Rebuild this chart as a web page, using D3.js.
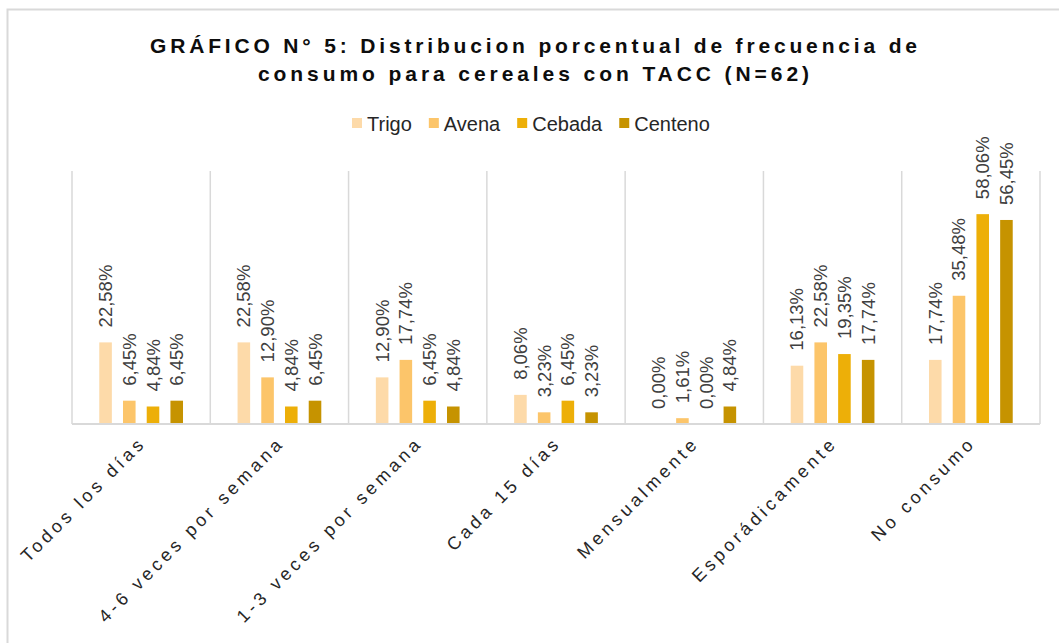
<!DOCTYPE html>
<html><head><meta charset="utf-8">
<script src="https://cdn.jsdelivr.net/npm/d3@7"></script>
<style>
html,body{margin:0;padding:0;background:#fff;}
svg{display:block;font-family:"Liberation Sans",Arial,sans-serif;}
</style></head>
<body>
<svg id="chart" width="1059" height="643"></svg>
<script>
const categories = ["Todos los días","4-6 veces por semana","1-3 veces por semana","Cada 15 días","Mensualmente","Esporádicamente","No consumo"];
const seriesNames = ["Trigo","Avena","Cebada","Centeno"];
const trigo   = [22.58, 22.58, 12.90, 8.06, 0.00, 16.13, 17.74];
const avena   = [6.45, 12.90, 17.74, 3.23, 1.61, 22.58, 35.48];
const cebada  = [4.84, 4.84, 6.45, 6.45, 0.00, 19.35, 58.06];
const centeno = [6.45, 6.45, 4.84, 3.23, 4.84, 17.74, 56.45];
const colors  = ["#FDDAA9","#FCC56A","#EDAF08","#C69300"];
const titleLines = ["GRÁFICO N° 5: Distribucion porcentual de frecuencia de","consumo para cereales con TACC (N=62)"];

const seriesVals = [trigo, avena, cebada, centeno];
const svg = d3.select("#chart");

// outer border (partial, as cropped)
svg.append("path").attr("d","M7.5,643 L7.5,9.5 L1059,9.5").attr("fill","none").attr("stroke","#d9d9d9").attr("stroke-width",2);

const pLeft = 72, pRight = 1040, pTop = 171, pBottom = 424;
const x0 = d3.scaleBand().domain(categories).range([pLeft, pRight]).padding(0);
const x1 = d3.scaleBand().domain(seriesNames).range([0, x0.bandwidth()]).paddingInner(0.47).paddingOuter(1.15);
const y = d3.scaleLinear().domain([0, 70]).range([pBottom, pTop]);

// vertical category separators
const bounds = categories.map(c => x0(c)).concat([pRight]);
svg.append("g").selectAll("line").data(bounds).join("line")
  .attr("x1", d => d).attr("x2", d => d).attr("y1", pTop).attr("y2", pBottom)
  .attr("stroke", "#d9d9d9").attr("stroke-width", 1.5);

// bars
const rows = [];
categories.forEach((c, i) => seriesNames.forEach((s, j) => rows.push({c, s, j, v: seriesVals[j][i]})));
svg.append("g").selectAll("rect").data(rows).join("rect")
  .attr("x", d => x0(d.c) + x1(d.s))
  .attr("width", x1.bandwidth())
  .attr("y", d => y(d.v))
  .attr("height", d => y(0) - y(d.v))
  .attr("fill", d => colors[d.j]);

// baseline
svg.append("line").attr("x1", pLeft).attr("x2", pRight).attr("y1", pBottom).attr("y2", pBottom)
  .attr("stroke", "#d9d9d9").attr("stroke-width", 2);

// data labels
svg.append("g").selectAll("text").data(rows).join("text")
  .attr("transform", d => `translate(${x0(d.c) + x1(d.s) + x1.bandwidth()/2 + 6.5},${y(d.v) - 15}) rotate(-90)`)
  .attr("font-size", 18.5).attr("fill", "#404040")
  .text(d => d.v.toFixed(2).replace(".", ",") + "%");

// category labels
svg.append("g").selectAll("text").data(categories).join("text")
  .attr("transform", d => `translate(${x0(d) + x0.bandwidth()/2 + 6},${444}) rotate(-45)`)
  .attr("text-anchor", "end").attr("font-size", 18).attr("letter-spacing", 3.8)
  .attr("fill", "#262626")
  .text(d => d);

// title
const tW = [767, 551];
titleLines.forEach((t, i) => {
  svg.append("text").attr("x", 533.5).attr("y", 53 + i * 28)
    .attr("text-anchor", "middle").attr("font-size", 21).attr("font-weight", "bold")
    .attr("fill", "#0d0d0d")
    .attr("textLength", tW[i]).attr("lengthAdjust", "spacing")
    .text(t);
});

// legend
let lx = 352;
const lg = svg.append("g");
seriesNames.forEach((s, j) => {
  lg.append("rect").attr("x", lx).attr("y", 118).attr("width", 10).attr("height", 10).attr("fill", colors[j]);
  const t = lg.append("text").attr("x", lx + 15).attr("y", 131).attr("font-size", 20).attr("fill", "#262626").text(s);
  lx += 15 + t.node().getComputedTextLength() + 17;
});
</script>
</body></html>
